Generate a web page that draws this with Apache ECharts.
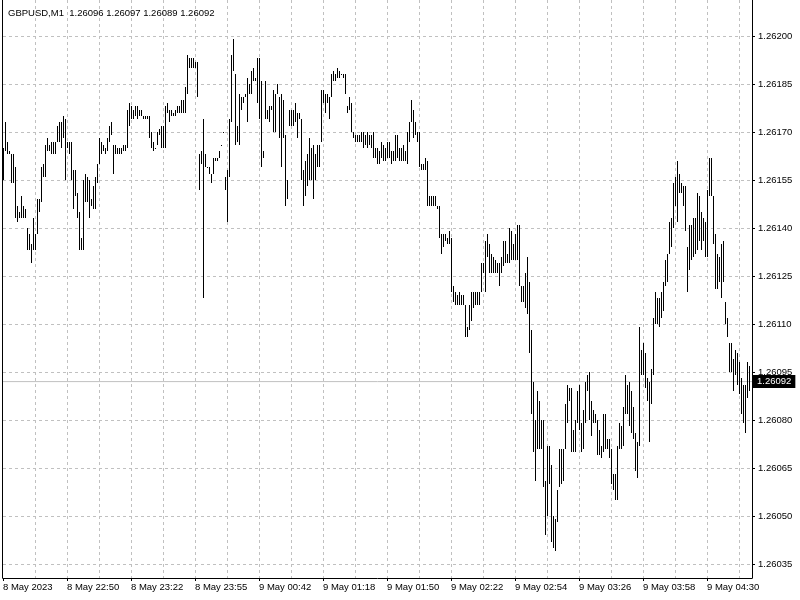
<!DOCTYPE html>
<html><head><meta charset="utf-8">
<script src="https://cdn.jsdelivr.net/npm/echarts@6/dist/echarts.min.js"></script>
<style>html,body{margin:0;padding:0;background:#fff}#c{width:800px;height:600px}</style>
</head><body><div id="c"></div>
<script>
const headerText = 'GBPUSD,M1  1.26096 1.26097 1.26089 1.26092';
const timeLabels = ['8 May 2023','8 May 22:50','8 May 23:22','8 May 23:55','9 May 00:42','9 May 01:18','9 May 01:50','9 May 02:22','9 May 02:54','9 May 03:26','9 May 03:58','9 May 04:30'];
const priceTicks = [1.26035,1.26050,1.26065,1.26080,1.26095,1.26110,1.26125,1.26140,1.26155,1.26170,1.26185,1.26200];
const lastPrice = 1.26092;
const highs = [
1.26165,1.26173,1.26167,1.26164,1.26163,1.26163,1.26159,1.26147,1.26145,1.26150,
1.26147,1.26146,1.26140,1.26138,1.26135,1.26143,1.26138,1.26149,1.26149,1.26159,
1.26160,1.26166,1.26168,1.26166,1.26167,1.26167,1.26167,1.26172,1.26173,1.26173,
1.26175,1.26174,1.26167,1.26167,1.26167,1.26158,1.26158,1.26151,1.26145,1.26137,
1.26155,1.26157,1.26156,1.26155,1.26149,1.26153,1.26156,1.26160,1.26168,1.26167,
1.26166,1.26165,1.26168,1.26172,1.26173,1.26166,1.26166,1.26165,1.26165,1.26165,
1.26166,1.26166,1.26177,1.26179,1.26178,1.26177,1.26178,1.26178,1.26177,1.26177,
1.26175,1.26175,1.26175,1.26175,1.26170,1.26167,1.26165,1.26170,1.26171,1.26172,
1.26172,1.26178,1.26179,1.26177,1.26177,1.26176,1.26177,1.26178,1.26178,1.26180,
1.26180,1.26184,1.26194,1.26193,1.26193,1.26193,1.26192,1.26192,1.26163,1.26164,
1.26174,1.26163,1.26159,1.26159,1.26157,1.26162,1.26162,1.26162,1.26164,1.26166,
1.26170,1.26156,1.26158,1.26174,1.26194,1.26199,1.26188,1.26172,1.26182,1.26181,
1.26181,1.26182,1.26187,1.26185,1.26189,1.26190,1.26187,1.26193,1.26193,1.26186,
1.26164,1.26186,1.26177,1.26178,1.26178,1.26183,1.26182,1.26185,1.26181,1.26182,
1.26180,1.26169,1.26155,1.26177,1.26177,1.26177,1.26179,1.26176,1.26176,1.26174,
1.26158,1.26161,1.26163,1.26168,1.26165,1.26166,1.26163,1.26166,1.26166,1.26183,
1.26183,1.26182,1.26182,1.26181,1.26188,1.26189,1.26188,1.26190,1.26189,1.26188,
1.26188,1.26188,1.26178,1.26181,1.26179,1.26170,1.26169,1.26169,1.26169,1.26170,
1.26170,1.26169,1.26170,1.26169,1.26169,1.26170,1.26165,1.26165,1.26164,1.26167,
1.26166,1.26165,1.26167,1.26167,1.26164,1.26164,1.26169,1.26169,1.26165,1.26165,
1.26166,1.26164,1.26170,1.26173,1.26180,1.26177,1.26173,1.26170,1.26170,1.26160,
1.26160,1.26162,1.26161,1.26150,1.26150,1.26150,1.26150,1.26147,1.26147,1.26138,
1.26138,1.26138,1.26137,1.26139,1.26137,1.26122,1.26120,1.26119,1.26120,1.26119,
1.26119,1.26116,1.26109,1.26116,1.26120,1.26120,1.26120,1.26120,1.26120,1.26129,
1.26129,1.26136,1.26138,1.26135,1.26132,1.26131,1.26130,1.26129,1.26129,1.26131,
1.26136,1.26136,1.26132,1.26140,1.26139,1.26135,1.26138,1.26141,1.26141,1.26122,
1.26122,1.26126,1.26131,1.26123,1.26108,1.26092,1.26080,1.26089,1.26086,1.26080,
1.26080,1.26061,1.26072,1.26072,1.26066,1.26050,1.26049,1.26058,1.26071,1.26071,
1.26071,1.26085,1.26091,1.26090,1.26090,1.26077,1.26080,1.26089,1.26091,1.26079,
1.26083,1.26092,1.26094,1.26095,1.26086,1.26083,1.26082,1.26080,1.26077,1.26072,
1.26082,1.26082,1.26074,1.26074,1.26071,1.26063,1.26063,1.26072,1.26079,1.26078,
1.26084,1.26094,1.26091,1.26092,1.26089,1.26084,1.26076,1.26073,1.26109,1.26102,
1.26104,1.26101,1.26093,1.26092,1.26096,1.26112,1.26120,1.26118,1.26118,1.26120,
1.26123,1.26130,1.26132,1.26142,1.26143,1.26154,1.26156,1.26161,1.26157,1.26154,
1.26153,1.26153,1.26134,1.26141,1.26141,1.26143,1.26143,1.26151,1.26150,1.26145,
1.26143,1.26142,1.26152,1.26162,1.26162,1.26150,1.26138,1.26132,1.26131,1.26135,
1.26136,1.26117,1.26112,1.26104,1.26104,1.26099,1.26102,1.26101,1.26098,1.26093,
1.26091,1.26091,1.26098,1.26097];
const lows = [
1.26155,1.26164,1.26163,1.26163,1.26154,1.26154,1.26143,1.26142,1.26143,1.26143,
1.26143,1.26143,1.26133,1.26133,1.26129,1.26133,1.26133,1.26138,1.26145,1.26148,
1.26156,1.26156,1.26164,1.26164,1.26163,1.26163,1.26163,1.26167,1.26167,1.26165,
1.26168,1.26155,1.26165,1.26163,1.26155,1.26146,1.26150,1.26143,1.26133,1.26133,
1.26133,1.26148,1.26148,1.26143,1.26147,1.26146,1.26146,1.26154,1.26160,1.26163,
1.26164,1.26163,1.26164,1.26167,1.26169,1.26157,1.26163,1.26163,1.26163,1.26163,
1.26164,1.26164,1.26165,1.26172,1.26174,1.26174,1.26175,1.26174,1.26175,1.26175,
1.26174,1.26174,1.26174,1.26168,1.26165,1.26164,1.26165,1.26166,1.26169,1.26165,
1.26165,1.26165,1.26176,1.26173,1.26175,1.26175,1.26175,1.26176,1.26176,1.26176,
1.26176,1.26176,1.26182,1.26190,1.26190,1.26190,1.26190,1.26181,1.26152,1.26160,
1.26118,1.26159,1.26159,1.26157,1.26154,1.26157,1.26161,1.26161,1.26162,1.26166,
1.26170,1.26152,1.26142,1.26156,1.26173,1.26189,1.26166,1.26167,1.26166,1.26177,
1.26179,1.26181,1.26173,1.26182,1.26182,1.26186,1.26186,1.26179,1.26174,1.26159,
1.26162,1.26174,1.26174,1.26173,1.26177,1.26170,1.26170,1.26182,1.26168,1.26159,
1.26168,1.26147,1.26149,1.26172,1.26172,1.26172,1.26173,1.26168,1.26174,1.26155,
1.26147,1.26150,1.26153,1.26155,1.26155,1.26149,1.26155,1.26159,1.26159,1.26167,
1.26179,1.26176,1.26179,1.26174,1.26181,1.26186,1.26186,1.26187,1.26187,1.26188,
1.26187,1.26182,1.26176,1.26177,1.26170,1.26168,1.26167,1.26167,1.26167,1.26167,
1.26165,1.26166,1.26165,1.26166,1.26165,1.26162,1.26162,1.26160,1.26160,1.26162,
1.26161,1.26161,1.26162,1.26162,1.26160,1.26161,1.26161,1.26162,1.26161,1.26161,
1.26161,1.26161,1.26160,1.26167,1.26173,1.26168,1.26169,1.26167,1.26159,1.26158,
1.26158,1.26158,1.26147,1.26147,1.26147,1.26147,1.26147,1.26146,1.26137,1.26132,
1.26134,1.26136,1.26135,1.26135,1.26120,1.26117,1.26116,1.26116,1.26116,1.26116,
1.26116,1.26106,1.26106,1.26108,1.26111,1.26115,1.26116,1.26116,1.26116,1.26120,
1.26126,1.26120,1.26131,1.26126,1.26126,1.26126,1.26126,1.26126,1.26122,1.26126,
1.26128,1.26129,1.26129,1.26129,1.26130,1.26130,1.26130,1.26130,1.26122,1.26117,
1.26117,1.26115,1.26113,1.26101,1.26082,1.26070,1.26061,1.26071,1.26071,1.26071,
1.26059,1.26044,1.26050,1.26060,1.26042,1.26040,1.26039,1.26048,1.26059,1.26060,
1.26061,1.26071,1.26079,1.26086,1.26070,1.26070,1.26070,1.26079,1.26077,1.26070,
1.26071,1.26079,1.26089,1.26080,1.26075,1.26079,1.26079,1.26069,1.26069,1.26068,
1.26070,1.26071,1.26071,1.26068,1.26060,1.26058,1.26055,1.26055,1.26071,1.26071,
1.26072,1.26082,1.26082,1.26078,1.26076,1.26074,1.26064,1.26062,1.26072,1.26094,
1.26094,1.26090,1.26086,1.26073,1.26085,1.26094,1.26110,1.26110,1.26109,1.26112,
1.26114,1.26122,1.26123,1.26132,1.26134,1.26140,1.26147,1.26142,1.26151,1.26151,
1.26147,1.26139,1.26120,1.26127,1.26130,1.26131,1.26132,1.26133,1.26136,1.26133,
1.26136,1.26131,1.26131,1.26150,1.26150,1.26135,1.26121,1.26121,1.26123,1.26118,
1.26123,1.26110,1.26106,1.26095,1.26095,1.26089,1.26094,1.26091,1.26088,1.26082,
1.26079,1.26076,1.26087,1.26089];

const FONT = '"Liberation Sans", Arial, sans-serif';
const BARS_PER_LABEL = 32, BARS_PER_GRID = 16;
const xMax = 374.5;
const yMin = 1.26030625, yMax = 1.2621125;
const labelX = timeLabels.map((_, k) => k * BARS_PER_LABEL);
const gridX = [];
for (let v = BARS_PER_GRID; v < xMax; v += BARS_PER_GRID) gridX.push(v);
const data = highs.map((h, i) => [i, lows[i], h]);

const chart = echarts.init(document.getElementById('c'), null, {renderer: 'canvas'});
chart.setOption({
  animation: false,
  backgroundColor: '#ffffff',
  title: { text: headerText, left: 3, top: 3, textStyle: { fontSize: 9.5, fontWeight: 'normal', color: '#000', fontFamily: FONT } },
  grid: { left: 3, right: 48, top: 0, bottom: 22 },
  xAxis: [
    { type: 'value', min: 0, max: xMax, position: 'bottom',
      axisLine: { show: true, onZero: false, lineStyle: { color: '#000', width: 1 } },
      axisTick: { show: false, customValues: gridX },
      axisLabel: { show: false },
      splitLine: { show: true, lineStyle: { color: '#c0c0c0', width: 1, type: [3, 3] } } },
    { type: 'value', min: 0, max: xMax, position: 'bottom',
      axisLine: { show: false, onZero: false },
      axisTick: { show: true, customValues: labelX, length: 3, lineStyle: { color: '#000' } },
      axisLabel: { show: true, customValues: labelX, align: 'left', margin: 4,
        formatter: v => timeLabels[Math.round(v / BARS_PER_LABEL)] || '',
        fontSize: 9.5, color: '#000', fontFamily: FONT },
      splitLine: { show: false } }
  ],
  yAxis: [
    { type: 'value', position: 'right', min: yMin, max: yMax,
      axisLine: { show: true, onZero: false, lineStyle: { color: '#000', width: 1 } },
      axisTick: { show: true, customValues: priceTicks, length: 3, lineStyle: { color: '#000' } },
      axisLabel: { show: true, customValues: priceTicks, margin: 6, formatter: v => v.toFixed(5),
        fontSize: 9.5, color: '#000', fontFamily: FONT },
      splitLine: { show: true, lineStyle: { color: '#c0c0c0', width: 1, type: [3, 3] } } },
    { type: 'value', position: 'left', offset: 1, min: yMin, max: yMax,
      axisLine: { show: true, onZero: false, lineStyle: { color: '#000', width: 1 } },
      axisTick: { show: false }, axisLabel: { show: false }, splitLine: { show: false } }
  ],
  series: [
    {
      type: 'line', xAxisIndex: 0, yAxisIndex: 0,
      data: [[0, lastPrice], [xMax, lastPrice]],
      symbol: 'none', silent: true, clip: false, z: 3,
      lineStyle: { color: '#c0c0c0', width: 1, type: 'solid' },
      endLabel: { show: true, distance: 1, formatter: () => lastPrice.toFixed(5),
        backgroundColor: '#000', color: '#fff', padding: [2, 4, 1, 4], fontSize: 9.5, fontFamily: FONT }
    },
    {
      type: 'custom', xAxisIndex: 0, yAxisIndex: 0, data: data,
      encode: { x: 0, y: [1, 2] },
      renderItem: function (params, api) {
        const i = api.value(0);
        const top = api.coord([i, api.value(2)]);
        const bot = api.coord([i, api.value(1)]);
        const x = Math.floor(top[0]) + 0.5;
        let y1 = Math.round(top[1]), y2 = Math.round(bot[1]);
        if (y2 - y1 < 1) y2 = y1 + 1;
        return { type: 'line', shape: { x1: x, y1: y1, x2: x, y2: y2 }, style: { stroke: '#000', lineWidth: 1 } };
      },
      z: 5
    }
  ]
});
</script></body></html>
